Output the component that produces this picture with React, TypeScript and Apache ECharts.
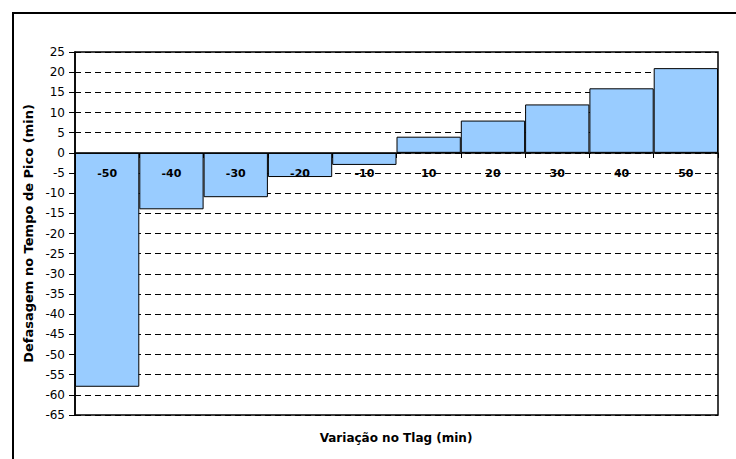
import React, { useEffect, useRef } from "react";
import * as echarts from "echarts";

const categories = ["-50", "-40", "-30", "-20", "-10", "10", "20", "30", "40", "50"];
const values = [-58, -14, -11, -6, -3, 4, 8, 12, 16, 21];
const yMin = -65;
const yMax = 25;
const yStep = 5;
const yTitle = "Defasagem no Tempo de Pico (min)";
const xTitle = "Variação no Tlag (min)";

const FONT = "'DejaVu Sans', Arial, sans-serif";

const GRID_TOP = 52;
const GRID_BOTTOM = 44;
const H = 459;

export default function App() {
  const ref = useRef<HTMLDivElement>(null);
  useEffect(() => {
    if (!ref.current) return;
    const chart = echarts.init(ref.current, undefined, { renderer: "svg" });
    const plotH = H - GRID_TOP - GRID_BOTTOM;
    const zeroOffset = -Math.round((plotH * (0 - yMin)) / (yMax - yMin));
    chart.setOption({
      animation: false,
      backgroundColor: "#ffffff",
      textStyle: { fontFamily: FONT },
      grid: {
        left: 75,
        top: GRID_TOP,
        right: 18,
        bottom: GRID_BOTTOM,
        show: true,
        borderColor: "#000",
        borderWidth: 1.5,
        backgroundColor: "transparent",
      },
      xAxis: {
        type: "category",
        data: categories,
        position: "bottom",
        offset: zeroOffset,
        axisLine: { onZero: false, lineStyle: { color: "#000", width: 1.5 } },
        axisTick: { show: true, inside: false, length: 5, alignWithLabel: false, lineStyle: { color: "#000" } },
        axisLabel: {
          color: "#000",
          fontWeight: "bold",
          fontSize: 11,
          fontFamily: FONT,
          margin: 15,
        },
        splitLine: { show: false },
        z: 5,
      },
      yAxis: {
        type: "value",
        min: yMin,
        max: yMax,
        interval: yStep,
        name: yTitle,
        nameLocation: "middle",
        nameGap: 38,
        nameRotate: 90,
        nameTextStyle: { color: "#000", fontWeight: "bold", fontSize: 13, fontFamily: FONT },
        axisLine: { show: true, onZero: false, lineStyle: { color: "#000", width: 1.5 } },
        axisTick: { show: true, inside: false, length: 6, lineStyle: { color: "#000" } },
        axisLabel: { color: "#000", fontSize: 12, fontFamily: FONT, margin: 10 },
        splitLine: { show: true, lineStyle: { color: "#000", type: [6, 4], width: 1 } },
      },
      graphic: [
        {
          type: "rect",
          shape: { x: 13, y: 13, width: 760, height: 480 },
          style: { fill: "none", stroke: "#000", lineWidth: 2 },
          silent: true,
        },
        {
          type: "text",
          x: 396,
          y: 438,
          style: {
            text: xTitle,
            fill: "#000",
            font: `bold 12px ${FONT}`,
            textAlign: "center",
            textVerticalAlign: "middle",
          },
        },
      ],
      series: [
        {
          type: "bar",
          data: values,
          barCategoryGap: "0%",
          itemStyle: { color: "#99CCFF", borderColor: "#000", borderWidth: 1 },
        },
      ],
    });
    return () => chart.dispose();
  }, []);
  return <div ref={ref} style={{ position: "fixed", left: 0, top: 0, width: 736, height: 459 }} />;
}
